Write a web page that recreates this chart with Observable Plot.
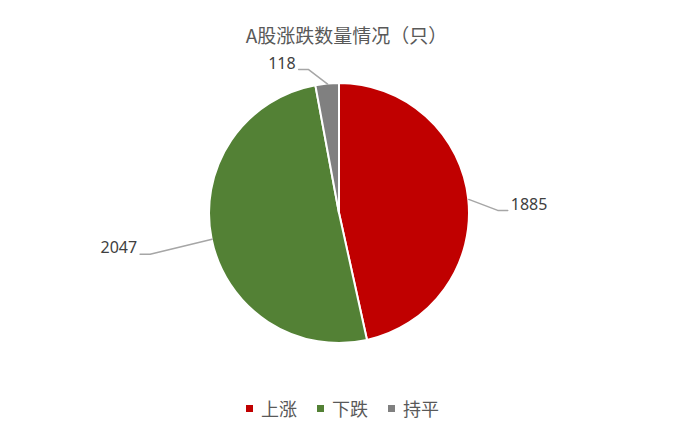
<!DOCTYPE html>
<html><head><meta charset="utf-8">
<script src="https://cdn.jsdelivr.net/npm/d3@7"></script>
<script src="https://cdn.jsdelivr.net/npm/@observablehq/plot@0.6"></script>
<style>
body{margin:0;background:#fff;font-family:"Noto Sans CJK SC","Noto Sans",sans-serif;}
#wrap{width:693px;height:435px;position:relative;}
#title{position:absolute;left:0;top:22px;width:693px;line-height:26px;font-size:19px;color:#595959;text-align:center;z-index:2;}
#chart{position:absolute;left:0;top:40px;}
#legend{position:absolute;left:0;top:396px;width:693px;line-height:24px;font-size:18px;color:#595959;display:flex;justify-content:center;padding-right:8px;box-sizing:border-box;}
#legend .it{display:flex;align-items:center;margin:0 10px;}
#legend .sw{width:7px;height:7px;margin-right:8px;}
</style></head>
<body><div id="wrap"><div id="title">A股涨跌数量情况（只）</div><div id="chart"></div><div id="legend"></div></div>
<script>
const categories = ["上涨", "下跌", "持平"];
const values = [1885, 2047, 118];
const colors = ["#C00000", "#538135", "#808080"];

const W = 693, H = 350, cx = 339, cy = 173, R = 130;
const color = Plot.scale({color: {type: "ordinal", domain: categories, range: colors}});
const arcs = d3.pie().sort(null).value((d, i) => values[i])(categories);

// leader-line layout (elbow offset from slice edge, horizontal run direction)
const leader = [{dx: 29, dy: 11, dir: 1}, {dx: -62, dy: 15, dir: -1}, {dx: -19, dy: -14.5, dir: -1}];
const linePts = [], labels = [];
arcs.forEach((a, i) => {
  const m = (a.startAngle + a.endAngle) / 2;
  const ax = cx + R * Math.sin(m), ay = cy - R * Math.cos(m);
  const ex = ax + leader[i].dx, ey = ay + leader[i].dy;
  const hx = ex + 10 * leader[i].dir;
  linePts.push({k: categories[i], x: ax, y: ay}, {k: categories[i], x: ex, y: ey}, {k: categories[i], x: hx, y: ey});
  labels.push({x: hx + 3 * leader[i].dir, y: ey - 6, t: String(values[i]), dir: leader[i].dir});
});

function pieMark(index, scales) {
  const sx = scales && scales.x ? scales.x : (v) => v;
  const sy = scales && scales.y ? scales.y : (v) => v;
  const arc = d3.arc().innerRadius(0).outerRadius(R);
  const g = d3.create("svg:g").attr("transform", `translate(${sx(cx)},${sy(cy)})`);
  g.selectAll("path").data(arcs).join("path")
    .attr("d", arc)
    .attr("fill", d => color.apply(d.data))
    .attr("stroke", "#fff")
    .attr("stroke-width", 2)
    .attr("stroke-linejoin", "round");
  return g.node();
}

const textOpts = {x: "x", y: "y", text: "t", fontSize: 16, fill: "#404040", fontFamily: "Noto Sans, sans-serif"};
const plot = Plot.plot({
  width: W, height: H,
  margin: 0,
  style: {background: "transparent"},
  x: {domain: [0, W], range: [0, W], axis: null},
  y: {domain: [0, H], range: [0, H], axis: null},
  marks: [
    pieMark,
    Plot.line(linePts, {x: "x", y: "y", z: "k", stroke: "#A6A6A6", strokeWidth: 1.5}),
    Plot.text(labels.filter(d => d.dir > 0), {...textOpts, textAnchor: "start"}),
    Plot.text(labels.filter(d => d.dir < 0), {...textOpts, textAnchor: "end"})
  ]
});
document.getElementById("chart").appendChild(plot);

const leg = document.getElementById("legend");
categories.forEach(c => {
  const it = document.createElement("div"); it.className = "it";
  const sw = document.createElement("span"); sw.className = "sw"; sw.style.background = color.apply(c);
  const tx = document.createElement("span"); tx.textContent = c;
  it.appendChild(sw); it.appendChild(tx); leg.appendChild(it);
});
</script></body></html>
